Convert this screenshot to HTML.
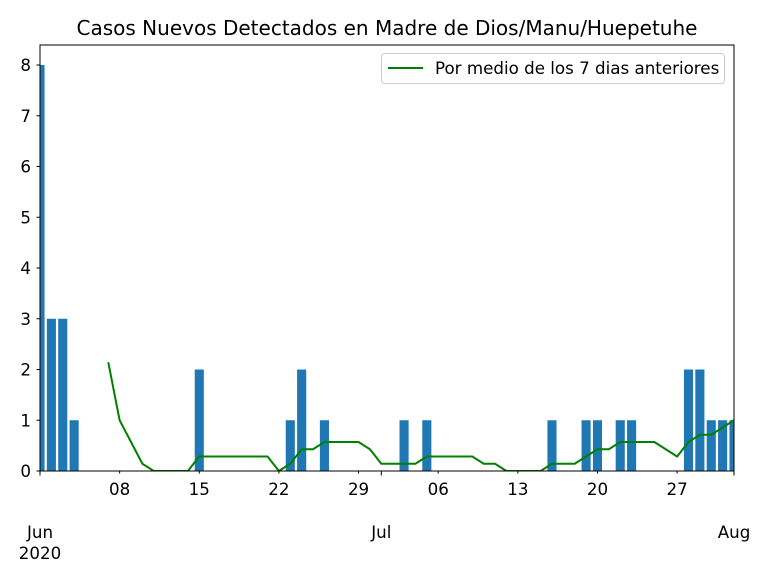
<!DOCTYPE html>
<html><head><meta charset="utf-8"><style>
body{margin:0;background:#fff;}
svg text{font-family:"DejaVu Sans","Liberation Sans",sans-serif;}
</style></head><body>
<svg id="c" width="768" height="576" xmlns="http://www.w3.org/2000/svg">
<rect width="768" height="576" fill="#fff"/>
<text x="387" y="35" font-size="20" text-anchor="middle">Casos Nuevos Detectados en Madre de Dios/Manu/Huepetuhe</text>
<defs><clipPath id="pc"><rect x="40" y="45" width="694" height="426"/></clipPath></defs>
<g id="bars" clip-path="url(#pc)"></g>
<g id="line" clip-path="url(#pc)"></g>
<rect x="40" y="45" width="694" height="426" fill="none" stroke="#000" stroke-width="1"/>
<g id="axes"></g>
<g>
<rect x="381.5" y="53.5" width="343" height="30" rx="3" fill="#fff" stroke="#ccc"/>
<line x1="388" y1="68" x2="423" y2="68" stroke="green" stroke-width="2"/>
<text x="435" y="74" font-size="16.7">Por medio de los 7 dias anteriores</text>
</g>
</svg>
<script>
const barDays=[0,1,2,3,14,22,23,25,32,34,45,48,49,51,52,57,58,59,60,61];
const barValues=[8,3,3,1,2,1,2,1,1,1,1,1,1,1,1,2,2,1,1,1];
const lineDays=[6,7,8,9,10,11,12,13,14,15,16,17,18,19,20,21,22,23,24,25,26,27,28,29,30,31,32,33,34,35,36,37,38,39,40,41,42,43,44,45,46,47,48,49,50,51,52,53,54,55,56,57,58,59,60,61];
const lineValues=[2.143,1,0.571,0.143,0,0,0,0,0.286,0.286,0.286,0.286,0.286,0.286,0.286,0,0.143,0.429,0.429,0.571,0.571,0.571,0.571,0.429,0.143,0.143,0.143,0.143,0.286,0.286,0.286,0.286,0.286,0.143,0.143,0,0,0,0,0.143,0.143,0.143,0.286,0.429,0.429,0.571,0.571,0.571,0.571,0.429,0.286,0.571,0.714,0.714,0.857,1];
const yTicks=[0,1,2,3,4,5,6,7,8];
const minorDays=[7,14,21,28,35,42,49,56];
const minorLabels=["08","15","22","29","06","13","20","27"];
const majorDays=[0,30,61];
const majorLabels=["Jun","Jul","Aug"];
const NS="http://www.w3.org/2000/svg";
const FS=16.7;
const x=d=>40+d*694/61, y=v=>471-v*406/8;
function mk(t,a,p){const e=document.createElementNS(NS,t);for(const k in a)e.setAttribute(k,a[k]);p.appendChild(e);return e;}
const gb=document.getElementById('bars'),gl=document.getElementById('line'),ga=document.getElementById('axes');
barDays.forEach((d,i)=>{const w=694/61*0.8;const r=mk('rect',{x:x(d)-w/2,y:y(barValues[i]),width:w,height:y(0)-y(barValues[i]),fill:'#1f77b4'},gb);

});
const pl=mk('polyline',{points:lineDays.map((d,i)=>x(d)+','+y(lineValues[i])).join(' '),fill:'none',stroke:'green','stroke-width':2},gl);


yTicks.forEach(v=>{mk('line',{x1:36.5,x2:40,y1:y(v),y2:y(v),stroke:'#000'},ga);const t=mk('text',{x:31,y:y(v)+6,'font-size':FS,'text-anchor':'end'},ga);t.textContent=v;

});
minorDays.forEach((d,i)=>{mk('line',{x1:x(d),x2:x(d),y1:471,y2:473.5,stroke:'#000'},ga);const t=mk('text',{x:x(d),y:495,'font-size':FS,'text-anchor':'middle'},ga);t.textContent=minorLabels[i];

});
majorDays.forEach((d,i)=>{mk('line',{x1:x(d),x2:x(d),y1:471,y2:475.5,stroke:'#000'},ga);const t=mk('text',{x:x(d),y:538,'font-size':FS,'text-anchor':'middle'},ga);t.textContent=majorLabels[i];

});
const yr=mk('text',{x:40,y:559,'font-size':FS,'text-anchor':'middle'},ga);yr.textContent='2020';


</script>
</body></html>
